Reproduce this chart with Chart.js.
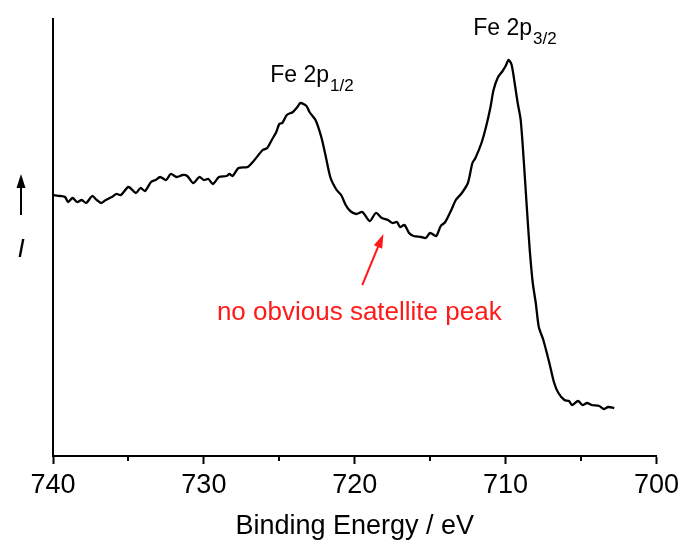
<!DOCTYPE html>
<html>
<head>
<meta charset="utf-8">
<script src="https://cdn.jsdelivr.net/npm/chart.js@4.4.0/dist/chart.umd.min.js"></script>
<style>
  html, body { margin: 0; padding: 0; background: #fff; }
  #wrap { width: 684px; height: 543px; }
</style>
</head>
<body>
<div id="wrap"><canvas id="xps" width="684" height="543"></canvas></div>
<script>
// Fe 2p XPS spectrum
const energy = [
  740.0, 739.5, 739.2, 739.0, 738.7, 738.4, 738.1, 737.8, 737.4, 737.1,
  736.8, 736.5, 736.1, 735.8, 735.5, 735.0, 734.5, 734.2, 733.9, 733.5,
  733.2, 732.9, 732.5, 732.2, 731.8, 731.4, 731.1, 730.7, 730.3, 730.0,
  729.7, 729.4, 729.0, 728.5, 728.3, 728.1, 727.7, 727.1, 726.7, 726.1,
  725.8, 725.5, 725.2, 725.0, 724.8, 724.5, 724.1, 723.8, 723.6, 723.2,
  723.0, 722.6, 722.2, 721.9, 721.6, 721.2, 720.9, 720.6, 720.3, 719.9,
  719.5, 719.0, 718.6, 718.2, 717.8, 717.5, 717.2, 717.0, 716.7, 716.4,
  716.1, 715.6, 715.3, 715.0, 714.6, 714.3, 714.0, 713.6, 713.3, 712.9,
  712.5, 712.2, 712.0, 711.6, 711.3, 711.0, 710.8, 710.5, 710.2, 710.0,
  709.8, 709.6, 709.4, 709.2, 709.0, 708.8, 708.6, 708.4, 708.2, 708.0,
  707.8, 707.5, 707.1, 706.8, 706.5, 706.1, 705.8, 705.6, 705.2, 704.9,
  704.6, 704.3, 703.8, 703.5, 703.2, 702.8
];
const intensity = [
  261, 260, 259, 254, 258, 254, 256, 253, 260, 256,
  253, 256, 259, 262, 261, 269, 263, 268, 265, 274,
  276, 279, 276, 282, 279, 281, 280, 273, 279, 276,
  277, 272, 279, 280, 282, 280, 288, 289, 295, 306,
  308, 316, 324, 332, 333, 341, 344, 349, 353, 350,
  344, 336, 318, 298, 278, 266, 261, 251, 245, 242,
  244, 235, 243, 238, 236, 233, 234, 229, 231, 223,
  220, 219, 218, 223, 220, 230, 234, 246, 256, 263,
  273, 293, 298, 313, 329, 349, 366, 379, 385, 390,
  396, 391, 373, 353, 336, 296, 250, 206, 173, 153,
  129, 116, 93, 74, 63, 56, 55, 51, 55, 51,
  53, 51, 50, 47, 49, 48
];
const xTicks = [740, 730, 720, 710, 700];
const xMinorTicks = [735, 725, 715, 705];

const FONT = "'Liberation Sans', Arial, sans-serif";

// labels and arrows on top of the plot
const extras = {
  id: 'extras',
  afterDraw(chart) {
    const ctx = chart.ctx;
    const xs = chart.scales.x, ys = chart.scales.y;
    const bottom = chart.chartArea.bottom;
    ctx.save();

    // minor ticks
    ctx.strokeStyle = '#000';
    ctx.lineWidth = 2;
    xMinorTicks.forEach(v => {
      const px = Math.round(xs.getPixelForValue(v));
      ctx.beginPath();
      ctx.moveTo(px, bottom);
      ctx.lineTo(px, bottom + 5);
      ctx.stroke();
    });

    // y axis label with arrow
    ctx.fillStyle = '#000';
    ctx.beginPath();
    ctx.moveTo(21, 215);
    ctx.lineTo(21, 186);
    ctx.stroke();
    ctx.beginPath();
    ctx.moveTo(21, 174);
    ctx.lineTo(16.5, 188);
    ctx.lineTo(25.5, 188);
    ctx.closePath();
    ctx.fill();
    ctx.font = 'italic 26px ' + FONT;
    ctx.textAlign = 'center';
    ctx.textBaseline = 'alphabetic';
    ctx.fillText('I', 21, 257);

    // peak labels
    const peak = (x0, y0, main, sub) => {
      ctx.font = '23px ' + FONT;
      ctx.textAlign = 'left';
      ctx.fillText(main, x0, y0);
      const w = ctx.measureText(main).width;
      ctx.font = '17px ' + FONT;
      ctx.fillText(sub, x0 + w + 1, y0 + 9);
    };
    peak(xs.getPixelForValue(725.6), ys.getPixelForValue(374), 'Fe 2p', '1/2');
    peak(xs.getPixelForValue(712.15), ys.getPixelForValue(421), 'Fe 2p', '3/2');

    // note about the satellite
    ctx.fillStyle = '#ff1a1a';
    ctx.strokeStyle = '#ff1a1a';
    ctx.font = '26px ' + FONT;
    ctx.textAlign = 'center';
    ctx.fillText('no obvious satellite peak', xs.getPixelForValue(719.7), ys.getPixelForValue(136));
    const ax0 = xs.getPixelForValue(719.5), ay0 = ys.getPixelForValue(171);
    const ax1 = xs.getPixelForValue(718.1), ay1 = ys.getPixelForValue(222);
    const ang = Math.atan2(ay1 - ay0, ax1 - ax0);
    ctx.beginPath();
    ctx.moveTo(ax0, ay0);
    ctx.lineTo(ax1 - 10 * Math.cos(ang), ay1 - 10 * Math.sin(ang));
    ctx.stroke();
    ctx.beginPath();
    ctx.moveTo(ax1, ay1);
    ctx.lineTo(ax1 - 14 * Math.cos(ang) + 4.5 * Math.sin(ang), ay1 - 14 * Math.sin(ang) - 4.5 * Math.cos(ang));
    ctx.lineTo(ax1 - 14 * Math.cos(ang) - 4.5 * Math.sin(ang), ay1 - 14 * Math.sin(ang) + 4.5 * Math.cos(ang));
    ctx.closePath();
    ctx.fill();

    ctx.restore();
  }
};

new Chart(document.getElementById('xps').getContext('2d'), {
  type: 'line',
  data: {
    datasets: [{
      data: energy.map((e, i) => ({ x: e, y: intensity[i] })),
      borderColor: '#000',
      borderWidth: 2.3,
      pointRadius: 0,
      tension: 0.25,
      fill: false
    }]
  },
  options: {
    responsive: false,
    animation: false,
    layout: { padding: { top: 19, right: 26, left: 0, bottom: 0 } },
    plugins: { legend: { display: false }, tooltip: { enabled: false } },
    scales: {
      x: {
        type: 'linear',
        min: 700,
        max: 740,
        reverse: true,
        afterBuildTicks: s => { s.ticks = xTicks.map(v => ({ value: v })); },
        afterFit: s => { s.height = 87; },
        ticks: {
          color: '#000',
          font: { family: FONT, size: 27 },
          padding: 5,
          maxRotation: 0
        },
        grid: {
          drawOnChartArea: false,
          tickLength: 8,
          tickWidth: 2,
          tickColor: '#000'
        },
        border: { display: true, color: '#000', width: 2 },
        title: {
          display: true,
          text: 'Binding Energy / eV',
          color: '#000',
          font: { family: FONT, size: 27 },
          padding: { top: 0, bottom: 0 }
        }
      },
      y: {
        min: 0,
        max: 437,
        afterFit: s => { s.width = 53; },
        ticks: { display: false },
        grid: { drawOnChartArea: false, drawTicks: false },
        border: { display: true, color: '#000', width: 2 }
      }
    }
  },
  plugins: [extras]
});
</script>
</body>
</html>
